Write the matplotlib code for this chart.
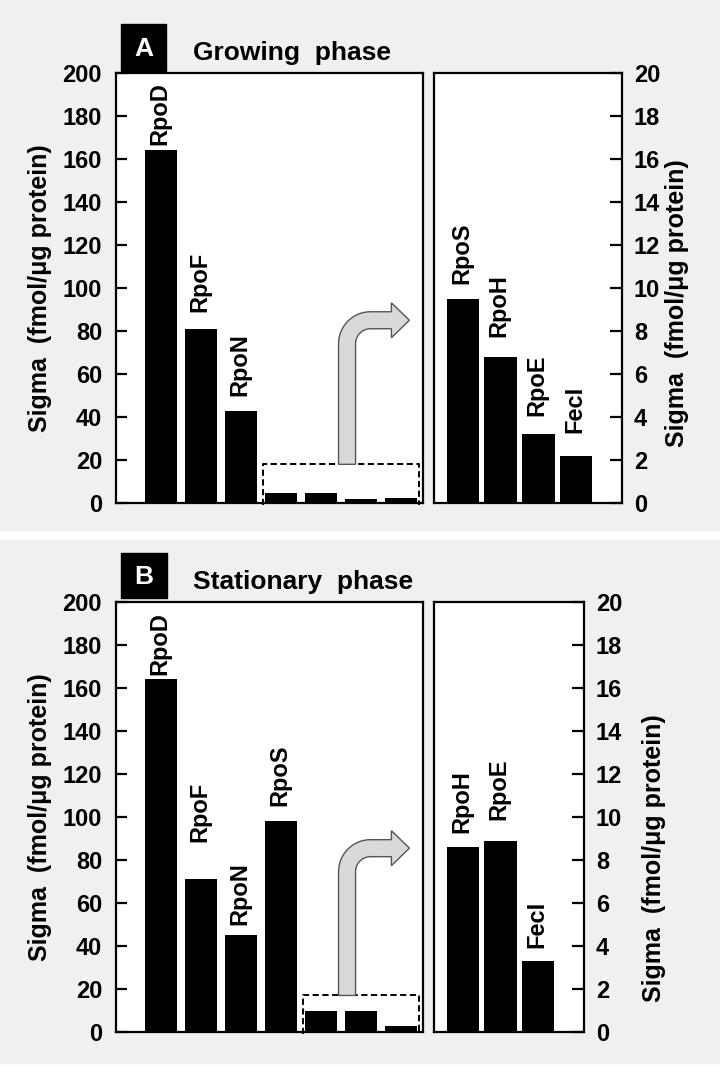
import numpy as np
import matplotlib
matplotlib.use("Agg")
import matplotlib.pyplot as plt
from matplotlib.patches import Rectangle, PathPatch
from matplotlib.path import Path
from matplotlib.transforms import IdentityTransform

# ---------------- data ----------------
a_main_labels = ["RpoD", "RpoF", "RpoN", "", "", "", ""]
a_main_values = [164, 81, 43, 4.5, 4.5, 2, 2.5]
a_zoom_labels = ["RpoS", "RpoH", "RpoE", "FecI"]
a_zoom_values = [9.5, 6.8, 3.2, 2.2]

b_main_labels = ["RpoD", "RpoF", "RpoN", "RpoS", "", "", ""]
b_main_values = [164, 71, 45, 98, 10, 10, 3]
b_zoom_labels = ["RpoH", "RpoE", "FecI"]
b_zoom_values = [8.6, 8.9, 3.3]

left_ticks = list(range(0, 201, 20))
right_ticks = list(range(0, 21, 2))
ylabel = "Sigma  (fmol/\u03bcg protein)"

# ---------------- style / layout ----------------
W, H = 720, 1066
plt.rcParams['font.family'] = ['Liberation Sans', 'DejaVu Sans']
plt.rcParams['font.weight'] = 'bold'
fig = plt.figure(figsize=(W / 100, H / 100), dpi=100, facecolor='white')

def fx(x):
    return x / W

def fy(y):
    return 1 - y / H

def add_ax(x0, y0, x1, y1):
    ax = fig.add_axes([fx(x0), fy(y1), (x1 - x0) / W, (y1 - y0) / H])
    ax.set_zorder(1)
    return ax

GREY = '#f0f0f0'
fig.patches.append(Rectangle((0, fy(530)), 1, 530 / H, transform=fig.transFigure,
                             color=GREY, zorder=-10))
fig.patches.append(Rectangle((0, fy(1063)), 1, (1063 - 540) / H, transform=fig.transFigure,
                             color=GREY, zorder=-10))

SP_LW = 1.6
TICK_FS = 17
LABEL_FS = 17


def style_axes(ax, side):
    for s in ax.spines.values():
        s.set_linewidth(SP_LW)
        s.set_color('black')
    ax.set_xticks([])
    if side == 'left':
        ax.yaxis.tick_left()
        ax.set_yticks(left_ticks)
        ax.tick_params(axis='y', direction='in', length=8, width=SP_LW,
                       labelsize=TICK_FS, pad=10)
    else:
        ax.yaxis.tick_right()
        ax.set_yticks(right_ticks)
        ax.tick_params(axis='y', direction='in', length=8.5, width=SP_LW,
                       labelsize=TICK_FS, pad=8.5)
    for t in ax.get_yticklabels():
        t.set_fontweight('bold')


def bars(ax, labels, values, width, pads):
    x = np.arange(len(values))
    ax.bar(x, values, width=width, color='black', edgecolor='none', zorder=2)
    for xi, v, lab, p in zip(x, values, labels, pads):
        if lab:
            ax.annotate(lab, (xi, v), xytext=(-1, p * 0.72), textcoords='offset points',
                        rotation=90, ha='center', va='bottom', fontsize=LABEL_FS,
                        fontweight='bold', annotation_clip=False)


def arrow(ax, shaft_x, bottom_val, tip_x, tip_y):
    bx, by = ax.transData.transform((shaft_x, bottom_val))
    tx, ty = ax.transData.transform((tip_x, tip_y))
    hw = 8.5          # half width of shaft / arm (px)
    R = 32.0          # outer corner radius
    r = R - 2 * hw
    head_len = 18.0
    head_hw = 17.5
    xl, xr = bx - hw, bx + hw
    ya = ty
    cx0, cy0 = xl + R, ya + hw - R
    th_out = np.linspace(np.pi, np.pi / 2, 24)
    th_in = np.linspace(np.pi / 2, np.pi, 24)
    xh = tx - head_len
    pts = [(xl, by), (xl, cy0)]
    pts += [(cx0 + R * np.cos(t), cy0 + R * np.sin(t)) for t in th_out]
    pts += [(xh, ya + hw), (xh, ya + head_hw), (tx, ya), (xh, ya - head_hw), (xh, ya - hw)]
    pts += [(cx0 + r * np.cos(t), cy0 + r * np.sin(t)) for t in th_in]
    pts += [(xr, by), (xl, by)]
    codes = [Path.MOVETO] + [Path.LINETO] * (len(pts) - 2) + [Path.CLOSEPOLY]
    patch = PathPatch(Path(pts, codes), facecolor='#d9d9d9', edgecolor='#555555',
                      lw=1.0, transform=IdentityTransform(), zorder=5)
    fig.add_artist(patch)


def dashed_box(ax, x0, x1, top):
    ax.plot([x0, x0, x1, x1], [-1.0, top, top, -1.0], color='black', lw=1.4,
            linestyle=(0, (3.2, 1.8)), zorder=4, clip_on=False)


def panel(y_top, y_bot, right_x1, main_labels, main_values, main_pads,
          zoom_labels, zoom_values, zoom_pads, zoom_start, box_top, tip_val,
          letter, title, rlabel_xy, lbox):
    axL = add_ax(116, y_top, 423, y_bot)
    axL.set_xlim(-1.13, 6.55)
    axL.set_ylim(0, 200)
    style_axes(axL, 'left')
    bars(axL, main_labels, main_values, 0.8, main_pads)

    axR = add_ax(434, y_top, right_x1, y_bot)
    n = len(zoom_values)
    axR.set_xlim(-0.77, n - 1 + 1.22)
    axR.set_ylim(0, 20)
    style_axes(axR, 'right')
    bars(axR, zoom_labels, zoom_values, 0.87, zoom_pads)

    dashed_box(axL, zoom_start - 0.45, len(main_values) - 1 + 0.44, box_top)
    axL.set_xlim(-1.13, 6.55)
    axL.set_ylim(0, 200)
    arrow(axL, 4.65, box_top, 6.21, tip_val)

    # y labels
    fig.text(fx(40), fy((y_top + y_bot) / 2), ylabel, rotation=90, ha='center',
             va='center', fontsize=18, fontweight='bold')
    fig.text(fx(rlabel_xy[0]), fy(rlabel_xy[1]), ylabel, rotation=90, ha='center',
             va='center', fontsize=18, fontweight='bold', zorder=6)

    # letter box and title
    x0, y0, x1, y1 = lbox
    fig.patches.append(Rectangle((fx(x0), fy(y1)), (x1 - x0) / W, (y1 - y0) / H,
                                 transform=fig.transFigure, color='black', zorder=3))
    fig.text(fx((x0 + x1) / 2), fy((y0 + y1) / 2 + 1), letter, color='white', ha='center',
             va='center', fontsize=19, fontweight='bold', zorder=4)
    fig.text(fx(193), fy(y_top - 13), title, ha='left', va='baseline', fontsize=19,
             fontweight='bold')


panel(73, 503, 622, a_main_labels, a_main_values, [5, 17, 15, 0, 0, 0, 0],
      a_zoom_labels, a_zoom_values, [15, 20, 18, 23], 3, 18, 85,
      'A', 'Growing  phase', (677, 303), (121, 24, 166, 71))

panel(602, 1032, 584, b_main_labels, b_main_values, [4, 37, 10, 15, 0, 0, 0],
      b_zoom_labels, b_zoom_values, [14, 21, 13], 4, 17, 85.5,
      'B', 'Stationary  phase', (654, 858), (121, 553, 167, 598))

fig.savefig('out.png', dpi=100, facecolor='white')
